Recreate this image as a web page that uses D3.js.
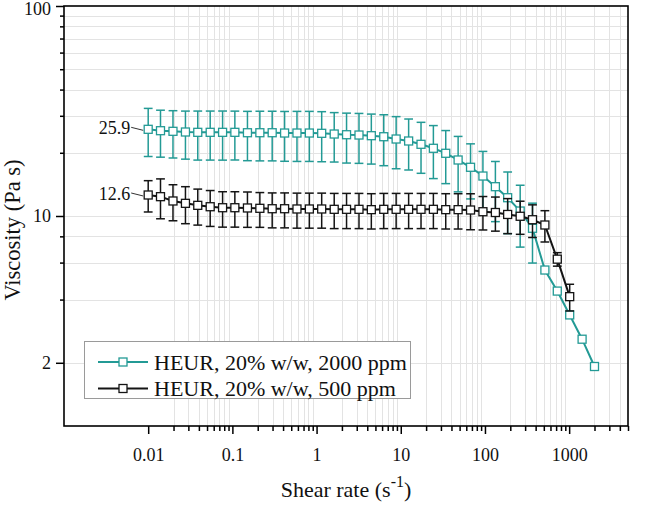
<!DOCTYPE html>
<html><head><meta charset="utf-8">
<script src="https://cdn.jsdelivr.net/npm/d3@7"></script>
<style>
body{margin:0;background:#fff}
svg{display:block}
text{font-family:"Liberation Serif","Times New Roman",serif;fill:#111}
</style>
</head><body>
<svg id="chart" width="666" height="505"></svg>
<script>
// ---------- data ----------
const shearRate = [0.01, 0.014, 0.0197, 0.0277, 0.0388, 0.0545, 0.0765, 0.107, 0.151, 0.212,
  0.297, 0.417, 0.585, 0.821, 1.15, 1.62, 2.27, 3.19, 4.47, 6.28, 8.81, 12.4, 17.4, 24.4,
  34.2, 48.0, 67.4, 94.6, 133, 186, 262, 367, 515, 723, 1015, 1425, 2000];

const visc2000 = [25.87, 25.48, 25.31, 25.12, 25.03, 25.03, 25.03, 25.03, 24.92, 24.92,
  24.92, 24.84, 24.84, 24.84, 24.76, 24.57, 24.38, 24.30, 24.12, 23.85, 23.26, 22.76, 21.95,
  21.01, 19.89, 18.48, 17.06, 15.50, 13.79, 12.22, 10.56, 8.74, 5.53, 4.39, 3.38, 2.59, 1.92];
const sd2000 = [6.67, 6.42, 6.42, 6.47, 6.57, 6.57, 6.58, 6.55, 6.58, 6.62, 6.62, 6.62,
  6.65, 6.65, 6.63, 6.50, 6.51, 6.49, 6.45, 6.49, 6.47, 6.20, 5.98, 5.94, 5.63, 5.45, 5.00,
  4.80, 4.39, 3.98, 3.45, 2.77, null, null, null, null, null];

const visc500 = [12.59, 12.36, 11.79, 11.49, 11.24, 11.07, 10.95, 10.95, 10.92, 10.88,
  10.83, 10.83, 10.80, 10.80, 10.80, 10.76, 10.76, 10.76, 10.72, 10.76, 10.76, 10.76, 10.76,
  10.76, 10.72, 10.72, 10.68, 10.48, 10.39, 10.17, 9.97, 9.60, 9.06, 6.23, 4.13];
const sd500 = [2.14, 2.66, 2.30, 2.30, 2.19, 2.15, 2.10, 2.10, 2.09, 2.05, 2.05, 2.05, 2.05,
  2.05, 2.05, 2.05, 2.05, 2.05, 2.05, 2.05, 2.05, 2.05, 2.05, 2.05, 2.05, 2.05, 2.08, 1.90,
  1.92, 1.93, 1.79, 1.70, 1.54, 0.46, 0.60];

const seriesNames = ["HEUR, 20% w/w, 2000 ppm", "HEUR, 20% w/w, 500 ppm"];
const seriesColors = ["#239a95", "#141414"];

const xTickValues = [0.01, 0.1, 1, 10, 100, 1000];
const xTickLabels = ["0.01", "0.1", "1", "10", "100", "1000"];
const yTickValues = [2, 10, 100];
const yTickLabels = ["2", "10", "100"];
const yMinorValues = [4, 6, 8, 20, 30, 40, 50, 60, 70, 80, 90];

const xTitle = "Shear rate (s";
const xTitleSup = "-1";
const yTitle = "Viscosity (Pa s)";

// ---------- layout ----------
const L = 64, R = 628, T = 6, B = 426;
const svg = d3.select("#chart");
const x = d3.scaleLog().domain([0.001, 5000]).range([L, R]);
const y = d3.scaleLog().domain([1, 100]).range([B, T]);

const xMinorValues = [];
[0.01, 0.1, 1, 10, 100, 1000].forEach(d => { for (let k = 2; k <= 9; k++) { const v = d * k; if (v <= 5000) xMinorValues.push(+v.toPrecision(3)); } });

// gridlines
const grid = svg.append("g").attr("stroke", "#e3e3e3").attr("stroke-width", 1);
grid.selectAll("line.v").data(xMinorValues.filter(v => v < 5000)).join("line")
  .attr("x1", d => Math.round(x(d)) + 0.5).attr("x2", d => Math.round(x(d)) + 0.5)
  .attr("y1", T).attr("y2", B);
grid.selectAll("line.h").data(yTickValues.concat(yMinorValues).filter(v => v < 100)).join("line")
  .attr("y1", d => Math.round(y(d)) + 0.5).attr("y2", d => Math.round(y(d)) + 0.5)
  .attr("x1", L).attr("x2", R);

// axes
const xAxis = d3.axisBottom(x).tickValues(xTickValues).tickFormat((d, i) => xTickLabels[i])
  .tickSize(8).tickSizeOuter(0).tickPadding(14);
const gx = svg.append("g").attr("transform", `translate(0,${B})`).call(xAxis);
const xMinorAxis = d3.axisBottom(x).tickValues(xMinorValues).tickFormat("").tickSize(5).tickSizeOuter(0);
const gxm = svg.append("g").attr("transform", `translate(0,${B})`).call(xMinorAxis);

const yAxis = d3.axisLeft(y).tickValues(yTickValues).tickFormat((d, i) => yTickLabels[i])
  .tickSize(8).tickSizeOuter(0).tickPadding(5);
const gy = svg.append("g").attr("transform", `translate(${L},0)`).call(yAxis);
const yMinorAxis = d3.axisLeft(y).tickValues(yMinorValues).tickFormat("").tickSize(4).tickSizeOuter(0);
const gym = svg.append("g").attr("transform", `translate(${L},0)`).call(yMinorAxis);

[gx, gxm, gy, gym].forEach(g => {
  g.select(".domain").remove();
  g.selectAll(".tick line").attr("stroke", "#000").attr("stroke-width", 1.5);
  g.selectAll("text").attr("font-size", 18).attr("fill", "#111")
    .style("font-family", '"Liberation Serif", serif');
});
gx.selectAll("text").attr("dy", "0.71em");
gy.selectAll("text").filter(d => d === 100).attr("dy", "0.45em");

// frame
svg.append("rect").attr("x", L).attr("y", T).attr("width", R - L).attr("height", B - T)
  .attr("fill", "none").attr("stroke", "#000").attr("stroke-width", 1.6);

// series
const series = [
  { xs: shearRate, ys: visc2000, sd: sd2000, color: seriesColors[0] },
  { xs: shearRate.slice(0, visc500.length), ys: visc500, sd: sd500, color: seriesColors[1] }
];
const capW = 4.4, sq = 8;
series.forEach(s => {
  const pts = s.ys.map((v, i) => ({ x: s.xs[i], y: v, sd: s.sd[i] }));
  const g = svg.append("g");
  const eb = g.append("g").attr("stroke", s.color).attr("stroke-width", 1.5).attr("fill", "none");
  pts.filter(p => p.sd != null).forEach(p => {
    const cx = x(p.x), y1 = y(p.y + p.sd), y2 = y(p.y - p.sd);
    eb.append("line").attr("x1", cx).attr("x2", cx).attr("y1", y1).attr("y2", y2);
    eb.append("line").attr("x1", cx - capW).attr("x2", cx + capW).attr("y1", y1).attr("y2", y1);
    eb.append("line").attr("x1", cx - capW).attr("x2", cx + capW).attr("y1", y2).attr("y2", y2);
  });
  g.append("path").datum(pts).attr("fill", "none").attr("stroke", s.color).attr("stroke-width", 2)
    .attr("d", d3.line().x(d => x(d.x)).y(d => y(d.y)));
  g.selectAll("rect.m").data(pts).join("rect")
    .attr("x", d => x(d.x) - sq / 2).attr("y", d => y(d.y) - sq / 2)
    .attr("width", sq).attr("height", sq)
    .attr("fill", "#fff").attr("stroke", s.color).attr("stroke-width", 1.3);
});

// value annotations on first points
series.forEach(s => {
  const px = x(s.xs[0]), py = y(s.ys[0]);
  svg.append("line").attr("x1", px - 17).attr("y1", py - 2).attr("x2", px - 5).attr("y2", py + 1)
    .attr("stroke", "#333").attr("stroke-width", 1);
  svg.append("text").attr("x", px - 18).attr("y", py + 5).attr("text-anchor", "end")
    .attr("font-size", 18).text(s.ys[0].toFixed(1));
});

// legend
const lg = svg.append("g");
lg.append("rect").attr("x", 84.5).attr("y", 341.5).attr("width", 326).attr("height", 57)
  .attr("fill", "#fff").attr("stroke", "#9a9a9a").attr("stroke-width", 1);
seriesNames.forEach((name, i) => {
  const cy = 362 + i * 26.5;
  lg.append("line").attr("x1", 98).attr("x2", 148).attr("y1", cy).attr("y2", cy)
    .attr("stroke", seriesColors[i]).attr("stroke-width", 2);
  lg.append("rect").attr("x", 123 - sq / 2).attr("y", cy - sq / 2).attr("width", sq).attr("height", sq)
    .attr("fill", "#fff").attr("stroke", seriesColors[i]).attr("stroke-width", 1.3);
  lg.append("text").attr("x", 154).attr("y", cy + 7.5).attr("font-size", 22).text(name);
});

// axis titles
const xt = svg.append("text").attr("x", (L + R) / 2).attr("y", 497).attr("text-anchor", "middle")
  .attr("font-size", 22);
xt.append("tspan").text(xTitle);
xt.append("tspan").attr("font-size", 16).attr("dy", -10).text(xTitleSup);
xt.append("tspan").attr("dy", 10).text(")");

svg.append("text").attr("transform", `translate(20,230) rotate(-90)`)
  .attr("text-anchor", "middle").attr("font-size", 22.5).text(yTitle);
</script>
</body></html>
